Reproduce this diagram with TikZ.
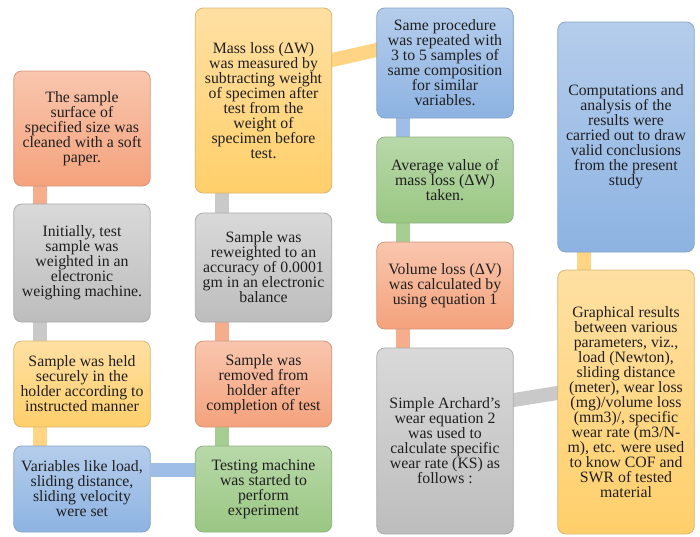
\documentclass[tikz,border=0pt]{standalone}
\usepackage{fontspec}
\setmainfont{Liberation Serif}
\usetikzlibrary{backgrounds}
\definecolor{saltop}{HTML}{F9C6AE}\definecolor{salbot}{HTML}{F4A27C}\definecolor{salc}{HTML}{F5AD8C}
\definecolor{grytop}{HTML}{D9D9D9}\definecolor{grybot}{HTML}{BDBDBD}\definecolor{gryc}{HTML}{C9C9C9}
\definecolor{yeltop}{HTML}{FFE0A3}\definecolor{yelbot}{HTML}{FFCF6A}\definecolor{yelc}{HTML}{FFD485}
\definecolor{blutop}{HTML}{B5CDEC}\definecolor{blubot}{HTML}{8DB3E2}\definecolor{bluc}{HTML}{9EBEE7}
\definecolor{grntop}{HTML}{B8D8A9}\definecolor{grnbot}{HTML}{9AC783}\definecolor{grnc}{HTML}{A6CE92}
\tikzset{
  box/.style={rounded corners=8pt, top color=#1top, bottom color=#1bot, draw=#1bot!70!gray,
    line width=0.8pt, inner sep=0pt, align=center, minimum width=136.5pt,
    font=\fontsize{15.8pt}{15pt}\selectfont, text=black!88},
  conn/.style={draw=#1, line width=14pt, line cap=butt},
}
\begin{document}
\begin{tikzpicture}[x=1pt,y=-1pt]
\useasboundingbox (0,0) rectangle (700,536);
% column 1
\node[box=sal, minimum height=115pt] (A) at (82,128.5) {The sample\\surface of\\specified size was\\cleaned with a soft\\paper.};
\node[box=gry, minimum height=118pt] (B) at (82,263) {Initially, test\\sample was\\weighted in an\\electronic\\weighing machine.};
\node[box=yel, minimum height=86pt] (C) at (82,384) {Sample was held\\securely in the\\holder according to\\instructed manner};
\node[box=blu, minimum height=86pt] (D) at (82,489) {Variables like load,\\sliding distance,\\sliding velocity\\were set};
% column 2
\node[box=grn, minimum height=86pt] (E) at (263.5,489) {Testing machine\\was started to\\perform\\experiment};
\node[box=sal, minimum height=86pt] (H) at (263.5,384) {Sample was\\removed from\\holder after\\completion of test};
\node[box=gry, minimum height=109pt] (G) at (263.5,267.5) {Sample was\\reweighted to an\\accuracy of 0.0001\\gm in an electronic\\balance};
\node[box=yel, minimum height=185pt] (F) at (263.5,100.5) {Mass loss (ΔW)\\was measured by\\subtracting weight\\of specimen after\\test from the\\weight of\\specimen before\\test.};
% column 3
\node[box=blu, minimum height=110pt] (I) at (445,63) {Same procedure\\was repeated with\\3 to 5 samples of\\same composition\\for similar\\variables.};
\node[box=grn, minimum height=86pt] (J) at (445,180) {Average value of\\mass loss (ΔW)\\taken.};
\node[box=sal, minimum height=87pt] (K) at (445,285.5) {Volume loss (ΔV)\\was calculated by\\using equation 1};
\node[box=gry, minimum height=186pt] (L) at (445,441) {Simple Archard’s\\wear equation 2\\was used to\\calculate specific\\wear rate (KS) as\\follows :};
% column 4
\node[box=yel, minimum height=264pt] (N) at (626,402) {Graphical results\\between various\\parameters, viz.,\\load (Newton),\\sliding distance\\(meter), wear loss\\(mg)/volume loss\\(mm3)/, specific\\wear rate (m3/N-\\m), etc. were used\\to know COF and\\SWR of tested\\material};
\node[box=blu, minimum height=230pt] (M) at (626,137) {Computations and\\analysis of the\\results were\\carried out to draw\\valid conclusions\\from the present\\study};
% connectors
\begin{scope}[on background layer]
\draw[conn=salc] ([xshift=27pt]A.south west) -- ([xshift=27pt]B.north west);
\draw[conn=gryc] ([xshift=27pt]B.south west) -- ([xshift=27pt]C.north west);
\draw[conn=yelc] ([xshift=27pt]C.south west) -- ([xshift=27pt]D.north west);
\draw[conn=bluc] ([yshift=19.5pt]D.east) -- ([yshift=19.5pt]E.west);
\draw[conn=grnc] ([xshift=27.5pt]E.north west) -- ([xshift=27.5pt]H.south west);
\draw[conn=salc] ([xshift=27.5pt]H.north west) -- ([xshift=27.5pt]G.south west);
\draw[conn=gryc] ([xshift=27.5pt]G.north west) -- ([xshift=27.5pt]F.south west);
\draw[conn=yelc, shorten <=-6pt, shorten >=-6pt] ([yshift=40.5pt]F.east) -- ([yshift=13pt]I.west);
\draw[conn=bluc] ([xshift=27pt]I.south west) -- ([xshift=27pt]J.north west);
\draw[conn=grnc] ([xshift=27pt]J.south west) -- ([xshift=27pt]K.north west);
\draw[conn=salc] ([xshift=27pt]K.south west) -- ([xshift=27pt]L.north west);
\draw[conn=gryc, shorten <=-6pt, shorten >=-6pt] ([yshift=41pt]L.east) -- ([yshift=9pt]N.west);
\draw[conn=yelc] ([xshift=27pt]N.north west) -- ([xshift=27pt]M.south west);
\end{scope}
\end{tikzpicture}
\end{document}
